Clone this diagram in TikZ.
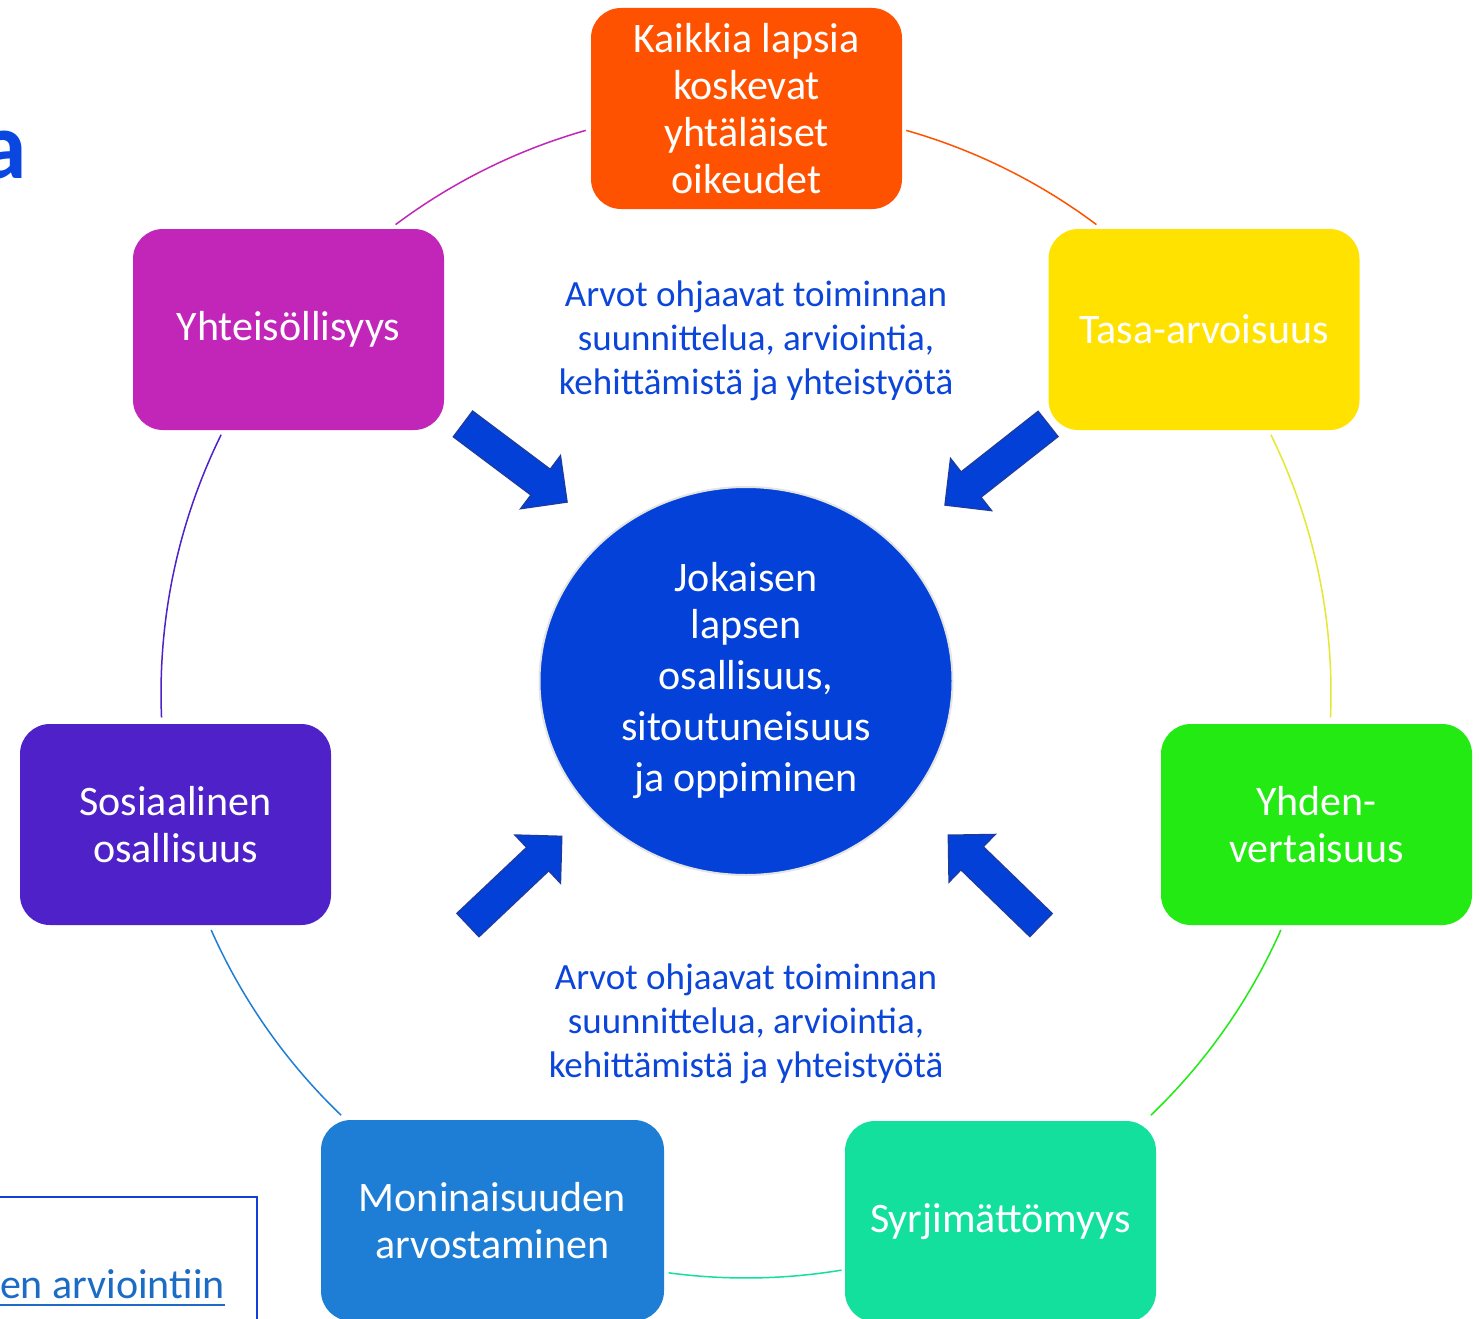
\documentclass[tikz,border=0pt]{standalone}
\usepackage{fontspec}
\setmainfont{Carlito}
\usetikzlibrary{shapes.geometric,calc}
\definecolor{cK}{HTML}{FF5200}
\definecolor{cT}{HTML}{FFE200}
\definecolor{cY}{HTML}{22EA12}
\definecolor{cS}{HTML}{14E09E}
\definecolor{cM}{HTML}{1E7ED6}
\definecolor{cSo}{HTML}{4E22C8}
\definecolor{cYh}{HTML}{C126B8}
\definecolor{cTline}{HTML}{E4E830}
\definecolor{cCenter}{HTML}{0341D8}
\definecolor{ringGray}{HTML}{E4E4E4}
\definecolor{arrowFill}{HTML}{0340D8}
\definecolor{arrowEdge}{HTML}{1A3CA8}
\definecolor{noteBlue}{HTML}{0B45D9}
\definecolor{titleBlue}{HTML}{0A47E0}
\definecolor{linkBlue}{HTML}{1C6BC4}
\definecolor{frameBlue}{HTML}{1040D8}
\begin{document}
\begin{tikzpicture}[x=1pt,y=1pt,
  box/.style={rounded corners=30pt, minimum width=311pt, minimum height=201pt, inner sep=0pt, text=white, align=center, font=\fontsize{42}{47}\selectfont},
  blockarrow/.style={draw=arrowEdge, fill=arrowFill, line width=1.5pt, line join=miter},
  ring/.style={line width=1.5pt},
  note/.style={text=noteBlue, align=center, inner sep=0pt, font=\fontsize{37}{44}\selectfont}]
\useasboundingbox (0,0) rectangle (1480,-1319);
\clip (0,0) rectangle (1480,-1319);
\fill[white] (0,0) rectangle (1480,-1319);

% ring arcs
\coordinate (O) at (746,-693);
\coordinate (r1) at ($(O)+(74.1:585)$);
\coordinate (r2) at ($(O)+(26.2:585)$);
\coordinate (r3) at ($(O)+(-23.9:585)$);
\coordinate (r4) at ($(O)+(-80.6:585)$);
\coordinate (r5) at ($(O)+(-133.8:585)$);
\coordinate (r6) at ($(O)+(-177.6:585)$);
\coordinate (r7) at ($(O)+(126.8:585)$);
\draw[ring, draw=cK] (r1) arc[start angle=74.1, end angle=53.2, radius=585];
\draw[ring, draw=cTline] (r2) arc[start angle=26.2, end angle=-2.4, radius=585];
\draw[ring, draw=cY] (r3) arc[start angle=-23.9, end angle=-46.2, radius=585];
\draw[ring, draw=cS] (r4) arc[start angle=-80.6, end angle=-97.6, radius=585];
\draw[ring, draw=cM] (r5) arc[start angle=-133.8, end angle=-156.1, radius=585];
\draw[ring, draw=cSo] (r6) arc[start angle=-177.6, end angle=-206.2, radius=585];
\draw[ring, draw=cYh] (r7) arc[start angle=126.8, end angle=105.9, radius=585];

% boxes
\node[box, fill=cK] (k) at (746.5,-108.5) {Kaikkia lapsia\\koskevat\\yhtäläiset\\oikeudet};
\node[box, fill=cT] (t) at (1204,-329.5) {Tasa-arvoisuus};
\node[box, fill=cY] (y) at (1316.5,-824.5) {Yhden-\\vertaisuus};
\node[box, fill=cS] (s) at (1000.5,-1221.5) {Syrjimättömyys};
\node[box, fill=cM, minimum width=343pt] (m) at (492.5,-1220.5) {Moninaisuuden\\arvostaminen};
\node[box, fill=cSo] (so) at (175.5,-824.5) {Sosiaalinen\\osallisuus};
\node[box, fill=cYh] (yh) at (288.5,-329.5) {\raisebox{-3pt}{Yhteisöllisyys}};

% centre
\node[ellipse, fill=cCenter, draw=ringGray, line width=2pt, minimum width=413pt, minimum height=388pt, inner sep=0pt, text=white, align=center, font=\fontsize{42}{51}\selectfont] (c) at (746,-681) {\raisebox{-4pt}{Jokaisen}\\lapsen\\osallisuus,\\sitoutuneisuus\\ja oppiminen};

% block arrows (tail centre, direction, length)
\coordinate (tUL) at (463,-424);
\coordinate (tUR) at (1048,-424);
\coordinate (tLL) at (468,-925);
\coordinate (tLR) at (1041,-925);
\draw[blockarrow, shift={(tUL)}, rotate=-36.87] (0,16) -- (97,16) -- (97,33) -- (130,0) -- (97,-33) -- (97,-16) -- (0,-16) -- cycle;
\draw[blockarrow, shift={(tUR)}, rotate=-141.8] (0,16) -- (98,16) -- (98,33) -- (131,0) -- (98,-33) -- (98,-16) -- (0,-16) -- cycle;
\draw[blockarrow, shift={(tLL)}, rotate=43.4] (0,16) -- (96,16) -- (96,33) -- (129,0) -- (96,-33) -- (96,-16) -- (0,-16) -- cycle;
\draw[blockarrow, shift={(tLR)}, rotate=135.9] (0,16) -- (96,16) -- (96,33) -- (129,0) -- (96,-33) -- (96,-16) -- (0,-16) -- cycle;

% notes
\node[note] (n1) at (756,-341) {Arvot ohjaavat toiminnan\\suunnittelua, arviointia,\\kehittämistä ja yhteistyötä};
\node[note] (n2) at (746,-1024) {Arvot ohjaavat toiminnan\\suunnittelua, arviointia,\\kehittämistä ja yhteistyötä};

% cut-off title letter
\node[anchor=base east, inner sep=0pt, text=titleBlue, font=\fontsize{96}{100}\selectfont\bfseries] (title) at (27,-178) {a};

% cut-off link box
\draw[frameBlue, line width=2pt] (-10,-1197) -- (257,-1197) -- (257,-1330);
\node[anchor=base east, inner sep=0pt, text=linkBlue, font=\fontsize{42}{50}\selectfont] (link) at (225,-1298) {en arviointiin};
\draw[linkBlue, line width=2pt] ([yshift=-7pt]link.base west) -- ([yshift=-7pt]link.base east);
\end{tikzpicture}
\end{document}
